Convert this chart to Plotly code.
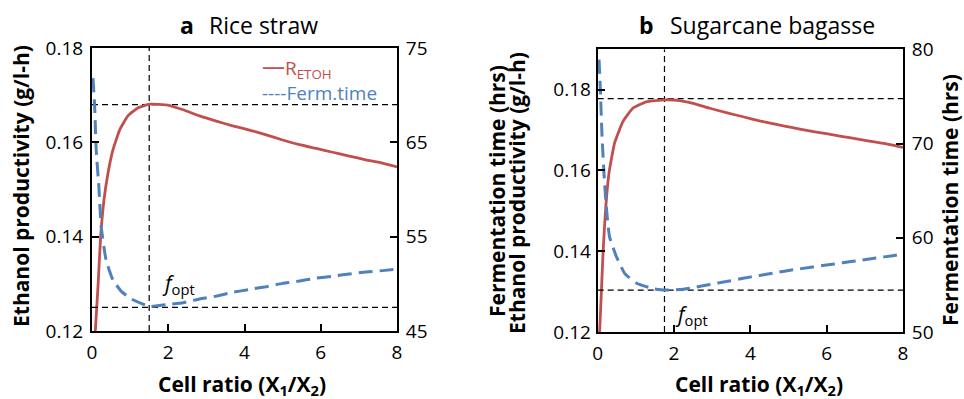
import plotly.graph_objects as go

# ---------------- data ----------------
x_range = [0, 8]
x_ticks = [0, 2, 4, 6, 8]

# Panel a: Rice straw
a_prod_x = [0.087, 0.157, 0.227, 0.314, 0.418, 0.549, 0.724, 0.941, 1.2, 1.51, 1.99, 2.39, 2.82, 3.26, 3.69,
            4.13, 4.57, 5.0, 5.44, 5.88, 6.31, 6.75, 7.18, 7.62, 8.0]
a_prod_y = [0.12, 0.1294, 0.14, 0.1478, 0.1534, 0.1584, 0.1626, 0.1656, 0.1673, 0.1681, 0.1679, 0.1669, 0.1656,
            0.1645, 0.1635, 0.1626, 0.1616, 0.1605, 0.1595, 0.1587, 0.1579, 0.1571, 0.1563, 0.1556, 0.1548]
a_time_x = [0.026, 0.07, 0.11, 0.18, 0.24, 0.37, 0.55, 0.77, 1.03, 1.51, 1.95, 2.39, 2.82, 3.26, 3.69,
            4.13, 4.57, 5.0, 5.44, 5.88, 6.31, 6.75, 7.18, 7.62, 8.0]
a_time_y = [71.8, 68.8, 64.2, 60.3, 56.1, 52.5, 50.4, 49.2, 48.4, 47.6, 47.8, 48.0, 48.4, 48.7, 49.1,
            49.4, 49.7, 50.05, 50.3, 50.6, 50.8, 51.05, 51.25, 51.4, 51.55]
a_opt = 1.5
a_peak = 0.168
a_tmin = 47.5
a_left_range = [0.12, 0.18]
a_left_ticks = [0.12, 0.14, 0.16, 0.18]
a_right_range = [45, 75]
a_right_ticks = [45, 55, 65, 75]

# Panel b: Sugarcane bagasse
b_prod_x = [0.05, 0.095, 0.14, 0.2, 0.295, 0.44, 0.66, 0.92, 1.27, 1.76, 2.15, 2.5, 2.94, 3.37, 3.81,
            4.24, 4.68, 5.11, 5.55, 5.99, 6.42, 6.86, 7.29, 7.73, 8.0]
b_prod_y = [0.12, 0.1296, 0.1395, 0.1494, 0.1593, 0.1667, 0.1721, 0.1754, 0.1770, 0.1775, 0.1773, 0.1766, 0.1754,
            0.1743, 0.1733, 0.1723, 0.1714, 0.1706, 0.1698, 0.1691, 0.1684, 0.1677, 0.1670, 0.1663, 0.1657]
b_time_x = [0.035, 0.07, 0.11, 0.165, 0.225, 0.31, 0.49, 0.71, 1.01, 1.45, 1.76, 2.15, 2.5, 2.94, 3.37,
            3.81, 4.24, 4.68, 5.11, 5.55, 5.99, 6.42, 6.86, 7.29, 7.73, 8.0]
b_time_y = [78.9, 75.7, 71.1, 66.8, 63.3, 60.1, 58.0, 56.2, 55.2, 54.6, 54.46, 54.5, 54.7, 55.05, 55.35,
            55.7, 56.0, 56.3, 56.6, 56.85, 57.1, 57.35, 57.6, 57.85, 58.1, 58.3]
b_opt = 1.75
b_peak = 0.1778
b_tmin = 54.45
b_left_range = [0.12, 0.19]
b_left_ticks = [0.12, 0.14, 0.16, 0.18]
b_right_range = [50, 80]
b_right_ticks = [50, 60, 70, 80]

titles = ["Rice straw", "Sugarcane bagasse"]
panel_letters = ["a", "b"]
legend_names = ["R<sub>ETOH</sub>", "----Ferm.time"]

# ---------------- style ----------------
W, H = 964, 399
FONT = "Open Sans"
RED = "#C0504D"
BLUE = "#4F81BD"


def px(x):
    return x / W


def py(y):
    return 1 - y / H


fig = go.Figure()

red_line = dict(color=RED, width=2.8, shape="spline", smoothing=0.4)
blue_line = dict(color=BLUE, width=3, dash="14px,7px", shape="spline", smoothing=0.4)
ref_line = dict(color="black", width=1.2, dash="6px,4px")

panels = [
    dict(xa="x", yl="y", yr="y2", px_=a_prod_x, py_=a_prod_y, tx=a_time_x, ty=a_time_y,
         opt=a_opt, peak=a_peak, tmin=a_tmin, lr=a_left_range, rr=a_right_range),
    dict(xa="x2", yl="y3", yr="y4", px_=b_prod_x, py_=b_prod_y, tx=b_time_x, ty=b_time_y,
         opt=b_opt, peak=b_peak, tmin=b_tmin, lr=b_left_range, rr=b_right_range),
]

for p in panels:
    fig.add_trace(go.Scatter(x=[p["opt"], p["opt"]], y=p["lr"], mode="lines", line=ref_line,
                             xaxis=p["xa"], yaxis=p["yl"], showlegend=False, hoverinfo="skip"))
    fig.add_trace(go.Scatter(x=x_range, y=[p["peak"], p["peak"]], mode="lines", line=ref_line,
                             xaxis=p["xa"], yaxis=p["yl"], showlegend=False, hoverinfo="skip"))
    fig.add_trace(go.Scatter(x=x_range, y=[p["tmin"], p["tmin"]], mode="lines", line=ref_line,
                             xaxis=p["xa"], yaxis=p["yr"], showlegend=False, hoverinfo="skip"))
    fig.add_trace(go.Scatter(x=p["tx"], y=p["ty"], mode="lines", line=blue_line,
                             xaxis=p["xa"], yaxis=p["yr"], name="Ferm.time", showlegend=False))
    fig.add_trace(go.Scatter(x=p["px_"], y=p["py_"], mode="lines", line=red_line,
                             xaxis=p["xa"], yaxis=p["yl"], name="R_ETOH", showlegend=False))

tickfont = dict(family=FONT, size=19, color="black")
common = dict(showgrid=False, zeroline=False, showline=True, linecolor="black", linewidth=2,
              ticks="inside", ticklen=7, tickwidth=1.5, tickcolor="black", tickfont=tickfont,
              automargin=False)

dom_a = [px(92), px(397)]
dom_b = [px(597.7), px(903)]
ydom_a = [py(331), py(48)]
ydom_b = [py(332), py(49.3)]

fig.update_layout(
    width=W, height=H, autosize=False,
    margin=dict(l=0, r=0, t=0, b=0),
    paper_bgcolor="white", plot_bgcolor="white",
    showlegend=False,
    font=dict(family=FONT, color="black"),
    xaxis=dict(domain=dom_a, range=x_range, tickvals=x_ticks, anchor="y", mirror=True,
               ticklabelstandoff=3, **common),
    yaxis=dict(domain=ydom_a, range=a_left_range, tickvals=a_left_ticks, tickformat=".2f",
               anchor="x", ticklabelstandoff=3, **common),
    yaxis2=dict(range=a_right_range, tickvals=a_right_ticks, overlaying="y", side="right",
                anchor="x", ticklabelstandoff=3, **common),
    xaxis2=dict(domain=dom_b, range=x_range, tickvals=x_ticks, anchor="y3", mirror=True,
                ticklabelstandoff=3, **common),
    yaxis3=dict(domain=ydom_b, range=b_left_range, tickvals=b_left_ticks, tickformat=".2f",
                anchor="x2", ticklabelstandoff=1, **common),
    yaxis4=dict(range=b_right_range, tickvals=b_right_ticks, overlaying="y3", side="right",
                anchor="x2", ticklabelstandoff=3, **common),
)

ann = []
title_font = dict(family=FONT, size=23, color="black")
ann.append(dict(x=px(178), y=py(25), text="<b>" + panel_letters[0] + "</b>", xanchor="left", yanchor="middle",
                font=title_font))
ann.append(dict(x=px(207), y=py(25), text=titles[0], xanchor="left", yanchor="middle", font=title_font))
ann.append(dict(x=px(637), y=py(25), text="<b>" + panel_letters[1] + "</b>", xanchor="left", yanchor="middle",
                font=title_font))
ann.append(dict(x=px(668), y=py(25), text=titles[1], xanchor="left", yanchor="middle", font=title_font))

axis_title_font = dict(family=FONT, size=21, color="black")
xt = "<b>Cell ratio (X<sub>1</sub>/X<sub>2</sub>)</b>"
ann.append(dict(x=px(241.5), y=py(385), text=xt, xanchor="center", yanchor="middle", font=axis_title_font))
ann.append(dict(x=px(758.5), y=py(385), text=xt, xanchor="center", yanchor="middle", font=axis_title_font))
ann.append(dict(x=px(21), y=py(186), text="<b>Ethanol productivity (g/l-h)</b>", textangle=-90,
                xanchor="center", yanchor="middle", font=axis_title_font))
ann.append(dict(x=px(497), y=py(191), text="<b>Fermentation time (hrs)</b>", textangle=-90,
                xanchor="center", yanchor="middle", font=axis_title_font))
ann.append(dict(x=px(517), y=py(193), text="<b>Ethanol productivity (g/l-h)</b>", textangle=-90,
                xanchor="center", yanchor="middle", font=axis_title_font))
ann.append(dict(x=px(950), y=py(200), text="<b>Fermentation time (hrs)</b>", textangle=-90,
                xanchor="center", yanchor="middle", font=axis_title_font))

fopt_font = dict(family=FONT, size=21, color="black")
ann.append(dict(x=px(160), y=py(284), text="<i>f</i><sub>opt</sub>", xanchor="left", yanchor="middle",
                font=fopt_font))
ann.append(dict(x=px(673), y=py(315), text="<i>f</i><sub>opt</sub>", xanchor="left", yanchor="middle",
                font=fopt_font))

# legend block (panel a)
leg_text = ("<span style='color:%s'><span style='font-size:23px'>\u2014</span>%s</span><br>"
            "<span style='color:%s'>%s</span>") % (RED, legend_names[0], BLUE, legend_names[1])
ann.append(dict(x=px(260), y=py(78), text=leg_text, xanchor="left", yanchor="middle", align="left",
                font=dict(family=FONT, size=19, color=BLUE)))
for a in ann:
    a.update(xref="paper", yref="paper", showarrow=False)
fig.update_layout(annotations=ann)

fig.write_html("out.html", config={"displayModeBar": False},
               post_script="document.body.style.margin='0';document.body.style.padding='0';")
